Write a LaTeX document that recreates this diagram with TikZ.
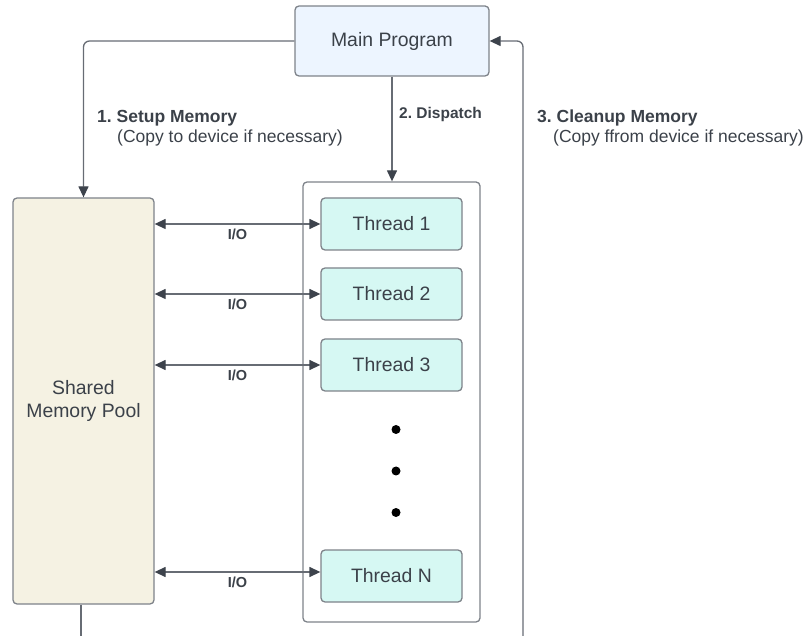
\documentclass[tikz,border=0pt]{standalone}
\usepackage{fontspec}
\setmainfont{Liberation Sans}
\usetikzlibrary{arrows.meta}
\definecolor{txt}{HTML}{3B4149}
\definecolor{bord}{HTML}{7E838A}
\definecolor{lin}{HTML}{676C74}
\definecolor{ahd}{HTML}{3D434C}
\definecolor{mainfill}{HTML}{EDF5FF}
\definecolor{memfill}{HTML}{F5F2E3}
\definecolor{thfill}{HTML}{D6F8F3}
\begin{document}
\begin{tikzpicture}[x=1pt,y=-1pt,
  box/.style={draw=bord, line width=1.3pt, rounded corners=4pt, inner sep=0pt,
    text=txt, font=\fontsize{19.4}{23}\selectfont, align=center},
  thread/.style={box, fill=thfill, minimum width=141pt, minimum height=52pt},
  conn/.style={draw=lin, line width=1.3pt, rounded corners=6pt,
    -{Triangle[length=11pt,width=10pt,color=ahd]}},
  both/.style={draw=lin, line width=1.3pt,
    {Triangle[length=11pt,width=10pt,color=ahd]}-{Triangle[length=11pt,width=10pt,color=ahd]}},
  plain/.style={draw=lin, line width=1.3pt, rounded corners=6pt},
  lbl/.style={text=txt, font=\fontsize{17.5}{21}\selectfont, anchor=base west, inner sep=0pt},
  lblb/.style={lbl, font=\fontsize{17.5}{21}\selectfont\bfseries},
  iolbl/.style={text=txt, font=\fontsize{14.5}{17}\selectfont\bfseries, below, inner sep=4.5pt},
  dot/.style={circle, fill=black, inner sep=0pt, minimum size=9pt}
]
\useasboundingbox (0,0) rectangle (804,636);

\node[box, fill=mainfill, minimum width=194pt, minimum height=70pt] (main) at (392,41) {Main Program};
\node[box, fill=memfill, minimum width=141pt, minimum height=406pt] (mem) at (83.5,401) {Shared\\Memory Pool};
\node[box, fill=white, minimum width=177pt, minimum height=440pt] (cont) at (391.5,402) {};
\node[thread] (t1) at (391.5,224) {Thread 1};
\node[thread] (t2) at (391.5,294) {Thread 2};
\node[thread] (t3) at (391.5,365) {Thread 3};
\node[thread] (tN) at (391.5,576) {Thread N};
\node[dot] (d1) at (396,429.5) {};
\node[dot] (d2) at (396,471) {};
\node[dot] (d3) at (396,512.5) {};

\coordinate (mb) at (81,636);
\coordinate (cb) at (523,636);

% connectors
\draw[conn] (main.west) -| (mem.north);
\draw[conn] (main.south) -- (main.south |- cont.north);
\draw[conn] (cb) |- (main.east);
\draw[plain] (mem.south -| mb) -- (mb);

\draw[both] (mem.east |- t1.west) -- node[iolbl] {I/O} (t1.west);
\draw[both] (mem.east |- t2.west) -- node[iolbl] {I/O} (t2.west);
\draw[both] (mem.east |- t3.west) -- node[iolbl] {I/O} (t3.west);
\draw[both] ([yshift=4pt]mem.east |- tN.west) -- node[iolbl] {I/O} ([yshift=4pt]tN.west);

% labels
\node[lblb] (l1a) at (97,122.5) {1.~Setup Memory};
\node[lbl] (l1b) at (117,143) {(Copy to device if necessary)};
\node[lblb, font=\fontsize{15.5}{19}\selectfont\bfseries] (l2) at (399,119) {2.~Dispatch};
\node[lblb] (l3a) at (537,122.5) {3.~Cleanup Memory};
\node[lbl] (l3b) at (553,143) {(Copy ffrom device if necessary)};
\end{tikzpicture}
\end{document}
